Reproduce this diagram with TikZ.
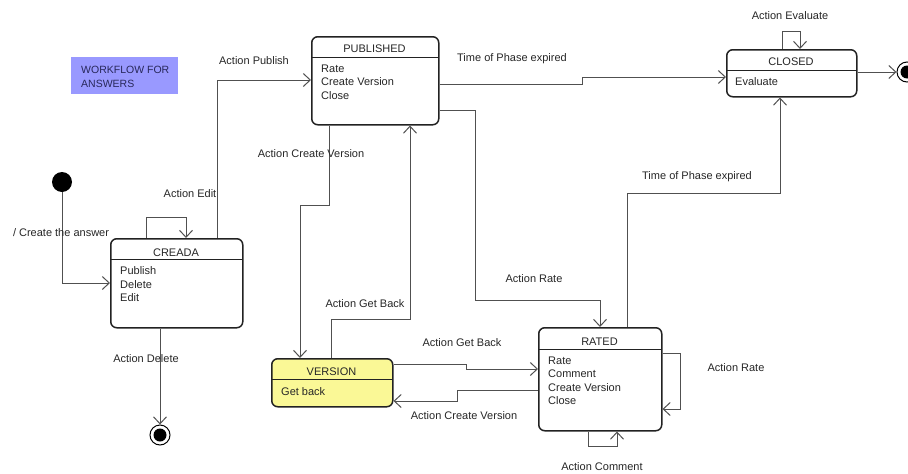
\documentclass[tikz,border=0pt]{standalone}
\usepackage{fontspec}
\setmainfont{Liberation Sans}
\usetikzlibrary{arrows.meta}
\definecolor{lineg}{HTML}{505050}
\definecolor{boxb}{HTML}{222222}
\definecolor{txt}{HTML}{262626}
\definecolor{verfill}{RGB}{250,248,150}
\definecolor{notefill}{RGB}{153,153,255}
\definecolor{notetxt}{RGB}{40,40,90}
\begin{document}
\begin{tikzpicture}[x=1pt,y=-1pt,
  every node/.style={font=\fontsize{11}{13}\selectfont, text=txt},
  statebox/.style={draw=boxb, line width=1.5pt, rounded corners=6pt, anchor=north west, inner sep=0pt, fill=white},
  sepline/.style={draw=boxb, line width=0.9pt},
  ttl/.style={anchor=base, inner sep=0pt},
  itm/.style={anchor=base west, inner sep=0pt},
  lbl/.style={anchor=base, inner sep=0pt},
  conn/.style={draw=lineg, line width=1pt},
  arr/.style={conn, -{Straight Barb[length=7pt,width=13pt,line width=1pt]}},
  initst/.style={circle, fill=black, minimum size=20pt, inner sep=0pt},
  finst/.style={circle, draw=black, line width=1pt, fill=white, minimum size=20pt, inner sep=0pt,
     path picture={\fill[black] (path picture bounding box.center) circle (6.5pt);}}
]
\useasboundingbox (0,0) rectangle (908,474);

% note
\node[fill=notefill, anchor=north west, minimum width=107pt, minimum height=37pt, inner sep=0pt] (note) at (71,57) {};
\node[anchor=base west, inner sep=0pt, text=notetxt, font=\fontsize{10.5}{12}\selectfont] (note1) at (81,73) {WORKFLOW FOR};
\node[anchor=base west, inner sep=0pt, text=notetxt, font=\fontsize{10.5}{12}\selectfont] (note2) at (81,87) {ANSWERS};

% states
\node[statebox, minimum width=132pt, minimum height=89pt] (creada) at (110,238) {};
\draw[sepline] (110,259) -- (242,259);
\node[ttl] (creadat) at (176,256) {CREADA};
\node[itm] (c1) at (120,274) {Publish};
\node[itm] (c2) at (120,288) {Delete};
\node[itm] (c3) at (120,301.5) {Edit};

\node[statebox, minimum width=127pt, minimum height=88pt] (pub) at (311,36) {};
\draw[sepline] (311,57) -- (438,57);
\node[ttl] (pubt) at (374.5,52) {PUBLISHED};
\node[itm] (p1) at (321,72) {Rate};
\node[itm] (p2) at (321,85.5) {Create Version};
\node[itm] (p3) at (321,99) {Close};

\node[statebox, minimum width=130pt, minimum height=47pt] (closed) at (726,49) {};
\draw[sepline] (726,70) -- (856,70);
\node[ttl] (closedt) at (791,65) {CLOSED};
\node[itm] (cl1) at (735,85) {Evaluate};

\node[statebox, minimum width=123pt, minimum height=103pt] (rated) at (538,327) {};
\draw[sepline] (538,349) -- (661,349);
\node[ttl] (ratedt) at (599.5,345) {RATED};
\node[itm] (r1) at (548,364) {Rate};
\node[itm] (r2) at (548,377.5) {Comment};
\node[itm] (r3) at (548,391) {Create Version};
\node[itm] (r4) at (548,404.5) {Close};

\node[statebox, fill=verfill, minimum width=121pt, minimum height=48pt] (version) at (271,358) {};
\draw[sepline] (271,379) -- (392,379);
\node[ttl] (versiont) at (331.5,375) {VERSION};
\node[itm] (v1) at (281,395) {Get back};

% pseudo states
\node[initst] (init) at (62,182) {};
\node[finst] (fin1) at (160,435) {};
\node[finst] (fin2) at (907,72) {};

% connectors
\draw[arr] (init.south) |- (creada.west |- 0,283);
\draw[arr] (creada.north -| 146,0) -- (146,217) -- (186,217) -- (creada.north -| 186,0);
\draw[arr] (creada.north -| 217,0) |- (pub.west |- 0,80);
\draw[arr] (creada.south -| 160,0) -- (fin1.north);
\draw[arr] (pub.south -| 329,0) -- (329,205) -- (300,205) -- (version.north -| 300,0);
\draw[arr] (version.north -| 331,0) |- (410,319) -- (pub.south -| 410,0);
\draw[arr] (pub.east |- 0,110) -| (475,300) -| (rated.north -| 600,0);
\draw[arr] (pub.east |- 0,84) -| (582,77) -- (closed.west |- 0,77);
\draw[arr] (closed.north -| 782,0) -- (782,31) -- (800,31) -- (closed.north -| 800,0);
\draw[arr] (closed.east |- 0,72) -- (fin2.west);
\draw[arr] (rated.north -| 627,0) |- (780,193) -- (closed.south -| 780,0);
\draw[arr] (rated.east |- 0,353) -| (680,409) -- (rated.east |- 0,409);
\draw[arr] (rated.south -| 588,0) |- (617,446) -- (rated.south -| 617,0);
\draw[arr] (version.east |- 0,364) -| (466,369) -- (rated.west |- 0,369);
\draw[arr] (rated.west |- 0,390) -| (457,401) -- (version.east |- 0,401);

% labels
\node[lbl] (l1) at (61,236) {/ Create the answer};
\node[lbl] (l2) at (190,197) {Action Edit};
\node[lbl] (l3) at (146,362) {Action Delete};
\node[lbl] (l4) at (254,64) {Action Publish};
\node[lbl] (l5) at (311,157) {Action Create Version};
\node[lbl] (l6) at (512,61) {Time of Phase expired};
\node[lbl] (l7) at (790,19) {Action Evaluate};
\node[lbl] (l8) at (697,179) {Time of Phase expired};
\node[lbl] (l9) at (534,282) {Action Rate};
\node[lbl] (l10) at (365,307) {Action Get Back};
\node[lbl] (l11) at (462,346) {Action Get Back};
\node[lbl] (l12) at (464,419) {Action Create Version};
\node[lbl] (l13) at (602,470) {Action Comment};
\node[lbl] (l14) at (736,371) {Action Rate};
\end{tikzpicture}
\end{document}
